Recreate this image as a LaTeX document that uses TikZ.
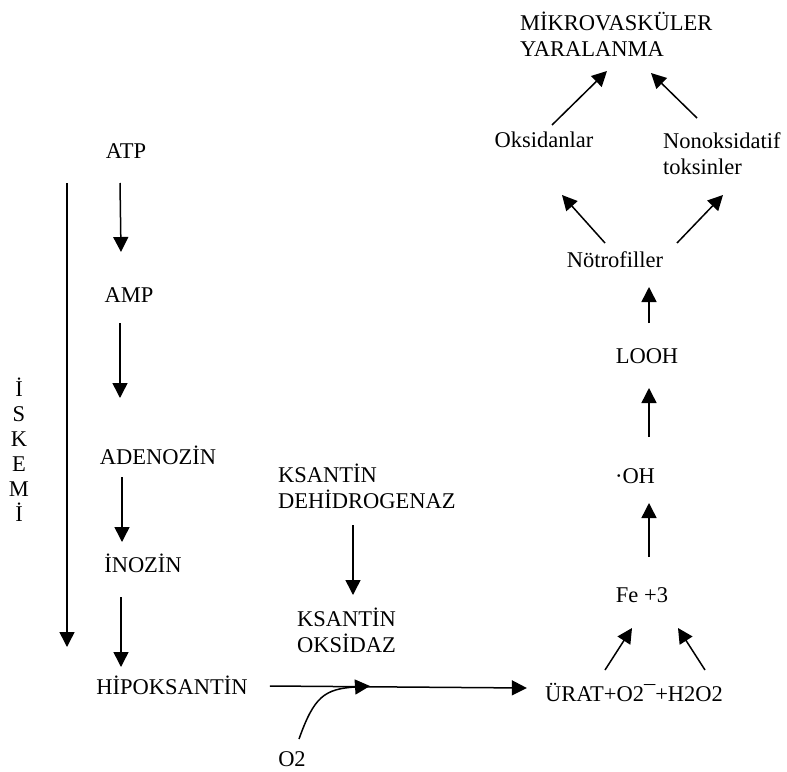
\documentclass[tikz,border=0pt]{standalone}
\usepackage{fontspec}
\setmainfont{Liberation Serif}
\usetikzlibrary{arrows.meta,calc}
\begin{document}
\begin{tikzpicture}[x=1pt,y=-1pt,
  every node/.style={font=\fontsize{22.5}{26}\selectfont, inner sep=0pt},
  arr/.style={line width=1.5pt,-{Triangle[length=15pt,width=15pt]}}]
\useasboundingbox (0,0) rectangle (787,771);
% left column
\node (atp) at (126,151) {ATP};
\node (amp) at (129,295) {AMP};
\node (aden) at (158,455) {ADENOZİN};
\node (inoz) at (143,563) {İNOZİN};
\node (hipo) at (172,685) {HİPOKSANTİN};
\node[align=center,font=\fontsize{22.5}{25}\selectfont] (isk) at (19,450) {İ\\S\\K\\E\\M\\İ};
\coordinate (istop) at (67,183);
\coordinate (isbot) at (67,647);
% middle
\node[anchor=west,align=left] (ksd) at (278,486) {KSANTİN\\DEHİDROGENAZ};
\node[anchor=west,align=left] (kso) at (297,630) {KSANTİN\\OKSİDAZ};
\node (o2) at (292,759) {O2};
\coordinate (mix) at (370,686);
% right column
\node (urat) at (634,692) {ÜRAT+O2¯+H2O2};
\node (fe) at (642,595) {Fe +3};
\node (oh) at (635,476) {·OH};
\node (looh) at (647,356) {LOOH};
\node (notro) at (615,260) {Nötrofiller};
\node (oks) at (544,140) {Oksidanlar};
\node[anchor=west,align=left] (nonoks) at (663,153.5) {Nonoksidatif\\toksinler};
\node[anchor=west,align=left] (mikro) at (520,34.5) {MİKROVASKÜLER\\YARALANMA};
% connectors
\draw[arr] ($(atp)+(-6,32)$) -- ($(amp)+(-8,-43)$);
\draw[arr] ($(amp)+(-9,28)$) -- ($(aden)+(-38,-57)$);
\draw[arr] ($(aden)+(-36,22)$) -- ($(inoz)+(-21,-21)$);
\draw[arr] ($(inoz)+(-22,34)$) -- ($(hipo)+(-51,-18)$);
\draw[arr] (istop) -- (isbot);
\draw[arr] ($(ksd.west)+(75,39)$) -- ($(kso.west)+(56,-35)$);
\draw[arr] ($(hipo.east)+(22,1)$) -- ($(urat.west)+(-18,-4)$);
\draw[arr] ($(o2)+(7,-20)$) .. controls ($(o2)+(22,-62)$) and ($(o2)+(32,-70)$) .. (mix);
\draw[arr] ($(urat)+(-29,-22)$) -- ($(fe)+(-10,33)$);
\draw[arr] ($(urat)+(71,-22)$) -- ($(fe)+(36,33)$);
\draw[arr] ($(fe)+(7,-38)$) -- ($(oh)+(14,27)$);
\draw[arr] ($(oh)+(14,-39)$) -- ($(looh)+(2,32)$);
\draw[arr] ($(looh)+(2,-33)$) -- ($(notro)+(34,27)$);
\draw[arr] ($(notro)+(-10,-17)$) -- ($(oks)+(18,55)$);
\draw[arr] ($(notro)+(62,-17)$) -- ($(nonoks.west)+(60,41.5)$);
\draw[arr] ($(oks)+(8,-15)$) -- ($(mikro.west)+(87,36.5)$);
\draw[arr] ($(nonoks.west)+(34,-35.5)$) -- ($(mikro.west)+(131,38.5)$);
\end{tikzpicture}
\end{document}
